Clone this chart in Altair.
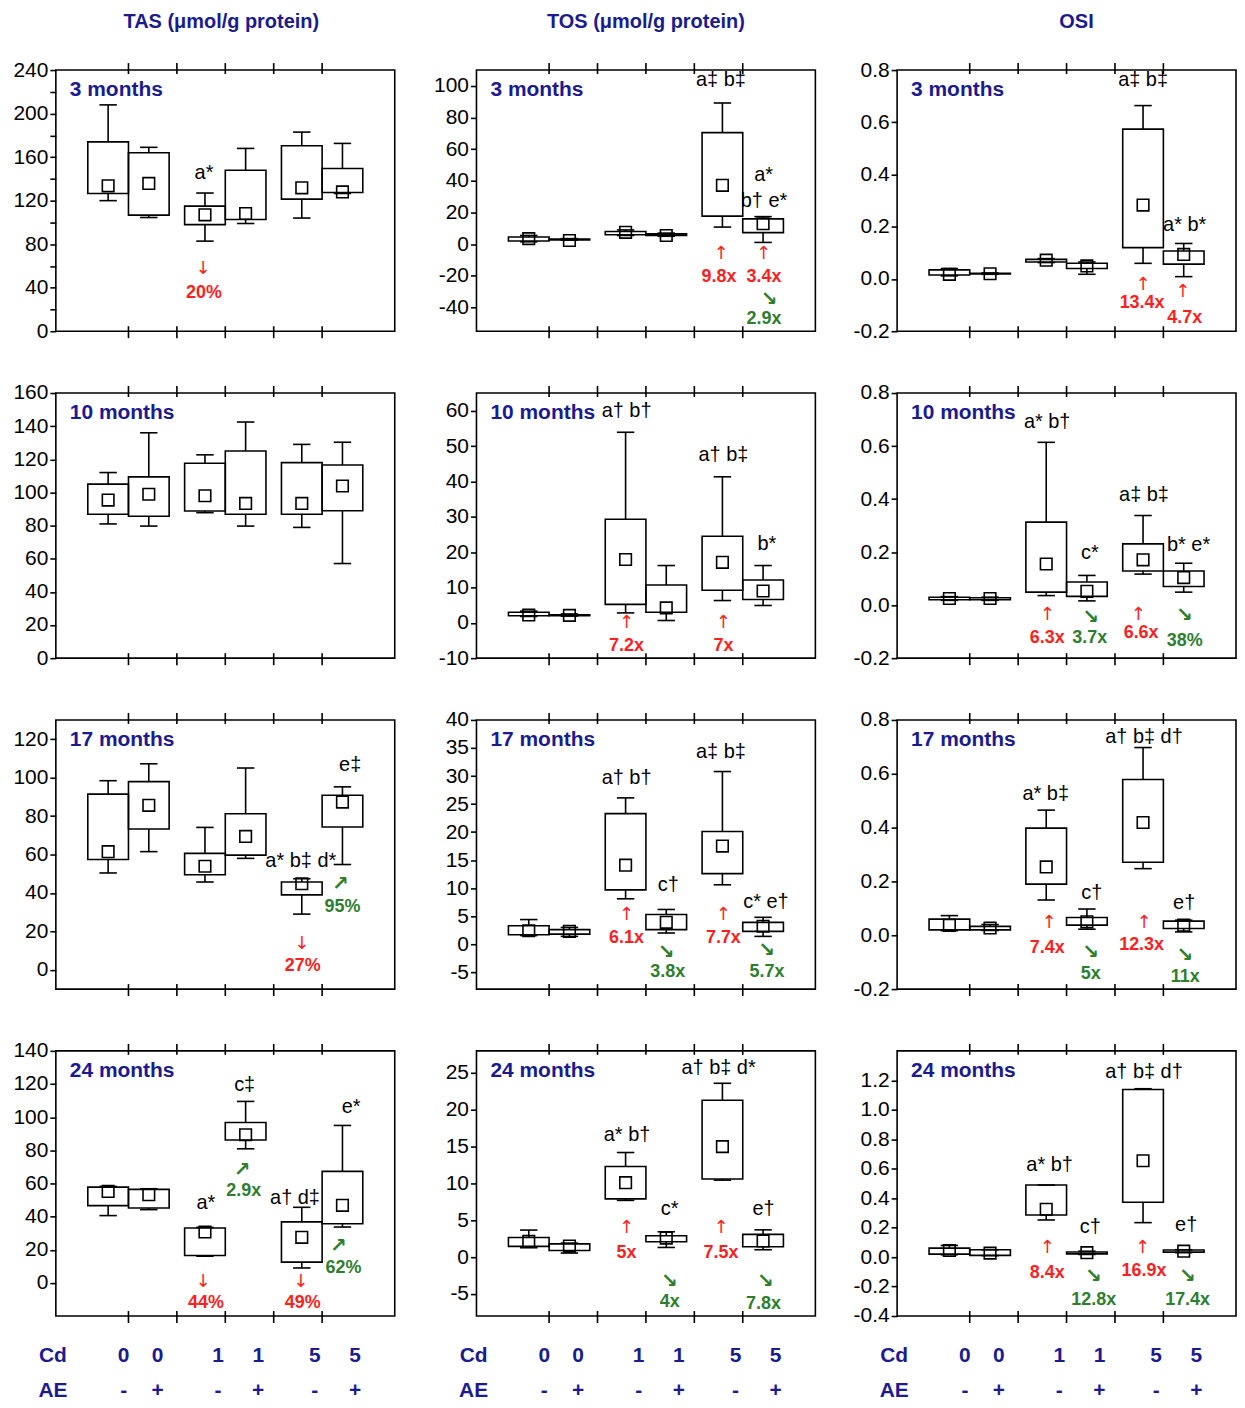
import altair as alt
import pandas as pd

FONT = "Liberation Sans"
ARROW_FONT = "DejaVu Sans"
NAVY = "#1b1b8f"
RED = "#ff1f1f"
GREEN = "#2f7d2f"

# ---------------- categories / labels ----------------
BOX_X = [0.58, 1.42, 2.58, 3.42, 4.58, 5.42]
TICK_X = [1, 2, 3, 4, 5]
CD_X = [0.9, 1.6, 2.85, 3.68, 4.85, 5.68]
CD_LABELS = ["0", "0", "1", "1", "5", "5"]
AE_LABELS = ["-", "+", "-", "+", "-", "+"]
COLUMN_TITLES = ["TAS (μmol/g protein)", "TOS (μmol/g protein)", "OSI"]
AGES = ["3 months", "10 months", "17 months", "24 months"]

# ---------------- TAS ----------------
TAS_3 = {"whi": [208, 169, 127, 168, 183, 172.6],
         "q3": [174, 164, 115, 148, 170.4, 149.6],
         "q1": [126.6, 106.7, 98, 102.7, 121.4, 127.5],
         "wlo": [120, 104.5, 82.8, 99, 104, 126.6],
         "mean": [133.6, 135.8, 107, 108.2, 131.8, 128]}
TAS_3_ANN = [("let", "a*", 2.56, 145), ("rarr", "↓", 2.54, 57), ("red", "20%", 2.56, 35.5)]

TAS_10 = {"whi": [112, 136, 122.7, 142.5, 129, 130.3],
          "q3": [105, 109.4, 117.6, 125, 118, 116.6],
          "q1": [86.8, 85.6, 88.8, 86.8, 86.8, 89],
          "wlo": [81, 79.7, 87.8, 79.7, 78.9, 57.1],
          "mean": [95.4, 98.9, 98, 93.4, 93.4, 103.9]}
TAS_10_ANN = []

TAS_17 = {"whi": [98.4, 107.2, 74.1, 105, 47.4, 95.2],
          "q3": [91.4, 97.9, 60.6, 81.2, 45.7, 90.8],
          "q1": [57.4, 73.3, 49.5, 59.7, 39, 74.3],
          "wlo": [50.4, 61.5, 45.7, 58, 29, 54.8],
          "mean": [61.5, 85.6, 53.9, 69.4, 44.8, 87.3]}
TAS_17_ANN = [("let", "e‡", 5.58, 106.3), ("let", "a* b‡ d*", 4.56, 56.7),
              ("rarr", "↓", 4.58, 13.5), ("red", "27%", 4.6, 1.8),
              ("garr", "↗", 5.38, 44.4), ("grn", "95%", 5.42, 32.5)]

TAS_24 = {"whi": [58.2, 56.8, 33.5, 109.5, 45.6, 95],
          "q3": [57.8, 56.4, 33.1, 96.8, 36.8, 67.3],
          "q1": [46.6, 45.2, 16.5, 86.2, 12.5, 35.7],
          "wlo": [40.6, 44.2, 16.1, 80.9, 9, 33.7],
          "mean": [55.2, 53.2, 30.7, 89.4, 27.5, 46.8]}
TAS_24_ANN = [("let", "c‡", 3.4, 119.5), ("let", "a*", 2.6, 48.2),
              ("garr", "↗", 3.35, 68.3), ("grn", "2.9x", 3.38, 55.2),
              ("let", "a† d‡", 4.44, 51.2), ("let", "e*", 5.6, 106.4),
              ("rarr", "↓", 2.54, 0.5), ("red", "44%", 2.6, -12),
              ("rarr", "↓", 4.56, 0.5), ("red", "49%", 4.6, -12),
              ("garr", "↗", 5.34, 22), ("grn", "62%", 5.44, 9)]

# ---------------- TOS ----------------
TOS_3 = {"whi": [5.5, 3.5, 9, 7, 89.2, 17.4],
         "q3": [4.5, 3.3, 8, 6.5, 70.5, 16],
         "q1": [2, 2.7, 6, 5.5, 17.7, 7.3],
         "wlo": [1.5, 2.5, 5.5, 5, 10.8, 1.1],
         "mean": [3.5, 2.3, 7.5, 5.5, 37.2, 12.9]}
TOS_3_ANN = [("let", "a‡ b‡", 4.55, 104), ("let", "a*", 5.43, 44), ("let", "b† e*", 5.44, 27.4),
             ("rarr", "↑", 4.55, -6.3), ("rarr", "↑", 5.43, -6.3),
             ("red", "9.8x", 4.51, -20.8), ("red", "3.4x", 5.44, -20.8),
             ("garr", "↘", 5.55, -34.8), ("grn", "2.9x", 5.44, -47.3)]

TOS_10 = {"whi": [3.3, 2.5, 53.9, 16.2, 41.3, 16.2],
          "q3": [3, 2.3, 29.3, 10.7, 24.5, 12.1],
          "q1": [2, 2, 5.2, 3.0, 9.2, 6.6],
          "wlo": [1.8, 1.9, 2.8, 0.65, 6.3, 4.9],
          "mean": [2.2, 2.1, 17.9, 4.2, 17.1, 9.0]}
TOS_10_ANN = [("let", "a† b†", 2.6, 59.8), ("let", "a† b‡", 4.6, 47.5), ("let", "b*", 5.5, 22.4),
              ("rarr", "↑", 2.6, -0.2), ("rarr", "↑", 4.6, -0.2),
              ("red", "7.2x", 2.6, -6.5), ("red", "7x", 4.6, -6.5)]

TOS_17 = {"whi": [4.4, 3.0, 26.1, 6.2, 30.8, 4.8],
          "q3": [3.3, 2.6, 23.3, 5.3, 20.1, 3.9],
          "q1": [1.7, 1.8, 9.7, 2.6, 12.6, 2.3],
          "wlo": [1.55, 1.4, 8.1, 2.0, 10.6, 1.4],
          "mean": [2.4, 2.3, 14.1, 3.9, 17.5, 3.2]}
TOS_17_ANN = [("let", "a† b†", 2.6, 29.6), ("let", "c†", 3.46, 10.5),
              ("let", "a‡ b‡", 4.55, 34.3), ("let", "c* e†", 5.48, 7.5),
              ("rarr", "↑", 2.6, 5.2), ("red", "6.1x", 2.6, 1.1),
              ("garr", "↘", 3.42, -1.4), ("grn", "3.8x", 3.45, -5),
              ("rarr", "↑", 4.6, 5.2), ("red", "7.7x", 4.6, 1.1),
              ("garr", "↘", 5.5, -1.1), ("grn", "5.7x", 5.5, -5)]

TOS_24 = {"whi": [3.67, 1.9, 14.2, 3.44, 23.6, 3.7],
          "q3": [2.67, 1.8, 12.3, 2.9, 21.3, 3.08],
          "q1": [1.45, 0.9, 7.9, 2.08, 10.6, 1.4],
          "wlo": [1.27, 0.55, 7.7, 1.31, 10.45, 1.0],
          "mean": [2.13, 1.5, 10.1, 2.58, 15, 2.2]}
TOS_24_ANN = [("let", "a* b†", 2.61, 16.6), ("let", "c*", 3.49, 6.5),
              ("let", "a† b‡ d*", 4.5, 25.7), ("let", "e†", 5.43, 6.5),
              ("rarr", "↑", 2.6, 4.0), ("red", "5x", 2.6, 0.5),
              ("rarr", "↑", 4.55, 4.0), ("red", "7.5x", 4.55, 0.5),
              ("garr", "↘", 3.49, -3.2), ("grn", "4x", 3.49, -6.15),
              ("garr", "↘", 5.47, -3.2), ("grn", "7.8x", 5.43, -6.4)]

# ---------------- OSI ----------------
OSI_3 = {"whi": [0.04, 0.023, 0.078, 0.065, 0.664, 0.136],
         "q3": [0.035, 0.022, 0.075, 0.06, 0.574, 0.107],
         "q1": [0.015, 0.019, 0.065, 0.04, 0.12, 0.057],
         "wlo": [0.012, 0.018, 0.063, 0.018, 0.06, 0.009],
         "mean": [0.018, 0.02, 0.072, 0.05, 0.283, 0.094]}
OSI_3_ANN = [("let", "a‡ b‡", 4.58, 0.762), ("let", "a* b*", 5.44, 0.207),
             ("rarr", "↑", 4.58, -0.023), ("rarr", "↑", 5.4, -0.05),
             ("red", "13.4x", 4.56, -0.093), ("red", "4.7x", 5.44, -0.15)]

OSI_10 = {"whi": [0.032, 0.03, 0.614, 0.112, 0.338, 0.158],
          "q3": [0.03, 0.028, 0.313, 0.087, 0.231, 0.129],
          "q1": [0.02, 0.02, 0.049, 0.033, 0.129, 0.07],
          "wlo": [0.018, 0.018, 0.036, 0.016, 0.117, 0.049],
          "mean": [0.025, 0.025, 0.155, 0.052, 0.171, 0.104]}
OSI_10_ANN = [("let", "a* b†", 2.6, 0.692), ("let", "c*", 3.48, 0.196),
              ("let", "a‡ b‡", 4.6, 0.416), ("let", "b* e*", 5.52, 0.227),
              ("rarr", "↑", 2.6, -0.039), ("garr", "↘", 3.5, -0.046),
              ("red", "6.3x", 2.6, -0.124), ("grn", "3.7x", 3.48, -0.124),
              ("rarr", "↑", 4.48, -0.039), ("red", "6.6x", 4.54, -0.105),
              ("garr", "↘", 5.44, -0.039), ("grn", "38%", 5.44, -0.137)]

OSI_17 = {"whi": [0.073, 0.04, 0.465, 0.0975, 0.6975, 0.056],
          "q3": [0.06, 0.033, 0.398, 0.066, 0.579, 0.0525],
          "q1": [0.02, 0.02, 0.19, 0.0375, 0.271, 0.025],
          "wlo": [0.017, 0.018, 0.131, 0.0225, 0.2475, 0.0125],
          "mean": [0.037, 0.027, 0.254, 0.05, 0.419, 0.0375]}
OSI_17_ANN = [("let", "a* b‡", 2.57, 0.525), ("let", "c†", 3.52, 0.156),
              ("let", "a† b‡ d†", 4.6, 0.7375), ("let", "e†", 5.43, 0.119),
              ("rarr", "↑", 2.64, 0.044), ("red", "7.4x", 2.6, -0.046),
              ("garr", "↘", 3.5, -0.0625), ("grn", "5x", 3.5, -0.144),
              ("rarr", "↑", 4.6, 0.044), ("red", "12.3x", 4.55, -0.0375),
              ("garr", "↘", 5.45, -0.075), ("grn", "11x", 5.45, -0.156)]

OSI_24 = {"whi": [0.079, 0.05, 0.489, 0.04, 1.143, 0.05],
          "q3": [0.061, 0.05, 0.489, 0.035, 1.138, 0.048],
          "q1": [0.02, 0.012, 0.286, 0.022, 0.372, 0.034],
          "wlo": [0.016, 0.01, 0.252, 0.018, 0.234, 0.03],
          "mean": [0.045, 0.027, 0.325, 0.03, 0.654, 0.04]}
OSI_24_ANN = [("let", "a* b†", 2.65, 0.624), ("let", "c†", 3.49, 0.207),
              ("let", "a† b‡ d†", 4.6, 1.255), ("let", "e†", 5.47, 0.219),
              ("rarr", "↑", 2.6, 0.06), ("red", "8.4x", 2.6, -0.108),
              ("garr", "↘", 3.56, -0.131), ("grn", "12.8x", 3.56, -0.288),
              ("rarr", "↑", 4.57, 0.06), ("red", "16.9x", 4.6, -0.097),
              ("garr", "↘", 5.5, -0.131), ("grn", "17.4x", 5.5, -0.288)]

# ---------------- axis domains / tick values ----------------
TAS_DOMAINS = [[0, 240], [0, 160], [-10, 130], [-20, 140]]
TAS_TICKS = [list(range(0, 241, 20)), list(range(0, 161, 20)),
             list(range(0, 121, 20)), list(range(0, 141, 20))]
TOS_DOMAINS = [[-55, 110], [-10, 65], [-8, 40], [-8, 28]]
TOS_TICKS = [list(range(-40, 101, 20)), list(range(-10, 61, 10)),
             list(range(-5, 41, 5)), list(range(-5, 26, 5))]
OSI_DOMAINS = [[-0.2, 0.8], [-0.2, 0.8], [-0.2, 0.8], [-0.4, 1.4]]
OSI_TICKS = [[-0.2, 0.0, 0.2, 0.4, 0.6, 0.8]] * 3 + [[-0.4, -0.2, 0.0, 0.2, 0.4, 0.6, 0.8, 1.0, 1.2]]

STATS = [[TAS_3, TOS_3, OSI_3], [TAS_10, TOS_10, OSI_10],
         [TAS_17, TOS_17, OSI_17], [TAS_24, TOS_24, OSI_24]]
ANNS = [[TAS_3_ANN, TOS_3_ANN, OSI_3_ANN], [TAS_10_ANN, TOS_10_ANN, OSI_10_ANN],
        [TAS_17_ANN, TOS_17_ANN, OSI_17_ANN], [TAS_24_ANN, TOS_24_ANN, OSI_24_ANN]]
DOMAINS = [TAS_DOMAINS, TOS_DOMAINS, OSI_DOMAINS]
TICKS = [TAS_TICKS, TOS_TICKS, OSI_TICKS]
FORMATS = ["d", "d", ".1f"]

W = 340
HEIGHTS = [262, 266, 270, 266]
TITLE_DX = [-4, 0, 10]
LW = 1.6

ANN_STYLES = {
    "let": dict(font=FONT, fontSize=20, color="black"),
    "red": dict(font=FONT, fontSize=18, fontWeight="bold", color=RED),
    "grn": dict(font=FONT, fontSize=18, fontWeight="bold", color=GREEN),
    "rarr": dict(font=ARROW_FONT, fontSize=18, color=RED),
    "garr": dict(font=ARROW_FONT, fontSize=20, fontWeight="bold", color=GREEN),
}


def make_panel(r, c):
    H = HEIGHTS[r]
    stats = STATS[r][c]
    ann = ANNS[r][c]
    xs = alt.Scale(domain=[-0.5, 6.5], nice=False, zero=False)
    ys = alt.Scale(domain=DOMAINS[c][r], nice=False, zero=False)
    if c == 0 and r == 0:
        lexpr = "datum.value % 40 == 0 ? datum.label : ''"
    else:
        lexpr = "replace(datum.label, '\u2212', '-')"
    yaxis = alt.Axis(values=TICKS[c][r], format=FORMATS[c], labelExpr=lexpr, title=None,
                     grid=False, domain=False, ticks=True, tickSize=6, tickWidth=LW,
                     tickColor="black", labelFont=FONT, labelFontSize=21,
                     labelColor="black", labelPadding=2)

    def X(f):
        return alt.X(f, type="quantitative", scale=xs, axis=None)

    def Y(f):
        return alt.Y(f, type="quantitative", scale=ys, axis=yaxis)

    df = pd.DataFrame({"x": BOX_X, **stats})
    base = alt.Chart(df).transform_calculate(
        xl="datum.x - 0.42", xr="datum.x + 0.42",
        cl="datum.x - 0.18", cr="datum.x + 0.18")
    layers = [
        base.mark_rule(color="black", strokeWidth=LW).encode(x=X("x"), y=Y("q3"), y2="whi"),
        base.mark_rule(color="black", strokeWidth=LW).encode(x=X("x"), y=Y("wlo"), y2="q1"),
        base.mark_rule(color="black", strokeWidth=LW).encode(x=X("cl"), x2="cr", y=Y("whi")),
        base.mark_rule(color="black", strokeWidth=LW).encode(x=X("cl"), x2="cr", y=Y("wlo")),
        base.mark_rect(fill="white", fillOpacity=0, stroke="black", strokeWidth=LW).encode(
            x=X("xl"), x2="xr", y=Y("q1"), y2="q3"),
        base.mark_point(shape="square", filled=False, size=135, color="black",
                        strokeWidth=LW, opacity=1).encode(x=X("x"), y=Y("mean")),
    ]
    tk = alt.Chart(pd.DataFrame({"t": TICK_X}))
    layers += [
        tk.mark_rule(color="black", strokeWidth=LW).encode(x=X("t"), y=alt.value(-7), y2=alt.value(4)),
        tk.mark_rule(color="black", strokeWidth=LW).encode(x=X("t"), y=alt.value(H - 5), y2=alt.value(H + 7)),
    ]
    layers.append(
        alt.Chart(pd.DataFrame({"t": [AGES[r]]})).mark_text(
            align="left", baseline="middle", font=FONT, fontSize=21, fontWeight="bold", color=NAVY
        ).encode(x=alt.value(14), y=alt.value(20), text="t:N"))

    if ann:
        adf = pd.DataFrame(ann, columns=["kind", "label", "x", "y"])
        a = alt.Chart(adf)
        kinds = set(adf["kind"])
        for k, st in ANN_STYLES.items():
            if k in kinds:
                layers.append(
                    a.transform_filter(alt.datum.kind == k).mark_text(
                        align="center", baseline="middle", **st
                    ).encode(x=X("x"), y=Y("y"), text="label:N"))

    if r == 0:
        layers.append(
            alt.Chart(pd.DataFrame({"t": [COLUMN_TITLES[c]]})).mark_text(
                align="center", baseline="middle", font=FONT, fontSize=20, fontWeight="bold",
                color=NAVY, dx=TITLE_DX[c]
            ).encode(x=alt.value(W / 2), y=alt.value(-48), text="t:N"))

    if r == 3:
        cdf = pd.DataFrame({"x": [-0.56] + CD_X, "cd": ["Cd"] + CD_LABELS, "ae": ["AE"] + AE_LABELS})
        cb = alt.Chart(cdf)
        layers += [
            cb.mark_text(align="center", baseline="middle", font=FONT, fontSize=21,
                         fontWeight="bold", color=NAVY).encode(x=X("x"), y=alt.value(H + 40), text="cd:N"),
            cb.mark_text(align="center", baseline="middle", font=FONT, fontSize=21,
                         fontWeight="bold", color=NAVY).encode(x=X("x"), y=alt.value(H + 75), text="ae:N"),
        ]

    return alt.layer(*layers).properties(width=W, height=H)


panels = [make_panel(r, c) for r in range(4) for c in range(3)]

chart = alt.concat(
    *panels, columns=3, spacing={"row": 62, "column": 82}, bounds="flush", align="each"
).resolve_scale(
    x="independent", y="independent"
).configure_view(
    stroke="black", strokeWidth=LW
).properties(
    padding={"left": 4, "top": 1, "right": 0, "bottom": 0}
)

chart.save("out.html", embed_options={"renderer": "svg", "actions": False})
